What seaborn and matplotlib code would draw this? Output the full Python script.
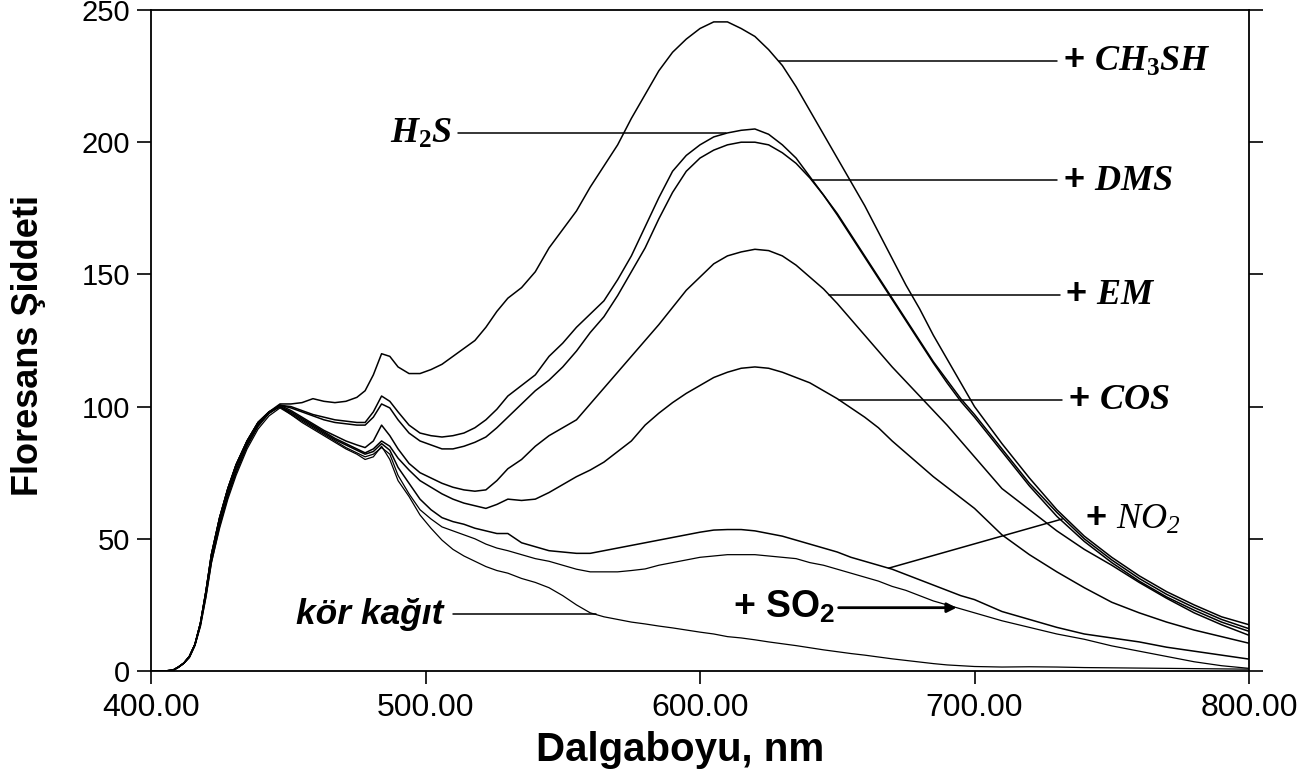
import numpy as np
import pandas as pd
import matplotlib
matplotlib.use("Agg")
import matplotlib.pyplot as plt
import seaborn as sns

# Emission wavelengths (nm)
wavelength = [400, 405, 408, 410, 412, 414, 416, 418, 420, 422, 425, 428, 431, 435, 439, 443, 447,
              451, 455, 459, 463, 467, 471, 475, 478, 481, 484, 487, 490, 494, 498, 502, 506, 510,
              514, 518, 522, 526, 530,
              535, 540, 545, 550, 555, 560, 565, 570, 575, 580, 585, 590, 595, 600, 605, 610, 615,
              620, 625, 630, 635, 640, 645, 650, 655, 660, 665, 670, 675, 680, 685, 690, 695, 700,
              710, 720, 730, 740, 750, 760, 770, 780, 790, 800]

# Normalised fluorescence intensity of each test strip
ch3sh = [0, 0, 0.3, 1.5, 3, 5.5, 10, 18, 30, 44, 58, 69, 78, 87, 94, 98, 101,
         101, 101.5, 103, 102, 101.5, 102, 103.5, 106, 112, 120, 119, 115, 112.5, 112.5, 114, 116,
         119, 122, 125, 130, 136, 141,
         145, 151, 160, 167, 174, 183, 191, 199, 209, 218, 227, 234, 239, 243, 245.5, 245.5, 243,
         240, 235, 229, 221, 212, 203, 194, 185, 176, 166, 156, 146, 137, 127, 118, 109, 100,
         86, 73, 61, 51, 43, 36, 30, 25, 20.5, 17.5]
h2s = [0, 0, 0.3, 1.5, 3, 5.5, 10, 18, 29, 42, 56, 67, 76, 85.5, 93, 97.5, 100.5,
       100, 98.5, 97, 96, 95, 94.5, 94, 94, 98, 104, 102, 98, 93, 90, 89, 88.5,
       89, 90, 92, 95, 99, 104,
       108, 112, 119, 124, 130, 135, 140, 148, 157, 168, 179, 189, 195, 199, 202, 203.5, 204.5,
       205, 203, 199, 194, 187, 180, 173, 165, 157, 149, 141, 133, 125, 117, 110, 103, 97,
       84, 71, 60, 50, 42, 35, 29, 24, 19.5, 16]
dms = [0, 0, 0.3, 1.4, 3, 5.5, 10, 17, 28, 41, 55, 66, 75, 85, 92.5, 97.5, 100.5,
       99.5, 98, 96.5, 95, 94, 93.5, 93, 93, 96, 101, 99.5, 95, 90, 87, 85.5, 84,
       84, 85, 86.5, 88.5, 92, 96,
       101, 106, 110, 115, 121, 128, 134, 142, 151, 160, 171, 181, 189, 194, 197, 199, 200,
       200, 199, 196, 192, 186.5, 180, 172.5, 164.5, 156.5, 148.5, 140.5, 132.5, 124.5, 116.5,
       109, 102, 96,
       83, 70, 58.5, 49, 41, 34, 28, 23, 18.5, 15]
em = [0, 0, 0.3, 1.5, 3, 5.5, 10, 18, 30, 44, 58, 69, 78, 87, 94, 98, 100.5,
      98.5, 96, 93.5, 91, 89, 87, 85.5, 84.5, 87, 93, 89, 84, 78.5, 75, 73, 71,
      69.5, 68.5, 68, 68.5, 72, 76.5,
      80, 85, 89, 92, 95, 101, 107, 113, 119, 125, 131, 137.5, 144, 149, 154, 157, 158.5,
      159.5, 159, 157, 153.5, 149, 144.5, 139, 133, 127, 121, 115, 109.5, 104, 98.5, 93, 87, 81,
      69, 61, 53, 46, 40, 33.5, 27.5, 22, 17.5, 13.5]
cos = [0, 0, 0.3, 1.5, 3, 5.5, 10, 18, 30, 43, 57, 68, 77, 86, 93.5, 97.5, 100,
       98, 95.5, 93, 90.5, 88, 86, 84, 82.5, 84, 87, 85, 80.5, 76, 72, 69.5, 67,
       65, 63.5, 62.5, 61.5, 63, 65,
       64.5, 65, 67.5, 70.5, 73.5, 76, 79, 83, 87, 93, 97.5, 101.5, 105, 108, 111, 113, 114.5,
       115, 114.5, 113, 111, 109, 106, 103, 99.5, 96, 92, 87, 82.5, 78, 73.5, 69.5, 65.5, 61.5,
       51.5, 44, 37.5, 31.5, 26, 22, 18.5, 15.5, 13, 10.5]
no2 = [0, 0, 0.3, 1.5, 3, 5.5, 10, 18, 30, 44, 58, 69, 78, 87, 94, 98, 100,
       97.5, 95, 92.5, 90, 87.5, 85.5, 83.5, 82, 83, 86, 83.5, 77, 71, 65, 61, 58,
       56.5, 55.5, 54, 53, 52, 52,
       48.5, 47, 45.5, 45, 44.5, 44.5, 45.5, 46.5, 47.5, 48.5, 49.5, 50.5, 51.5, 52.5, 53.3, 53.5,
       53.5, 53, 52, 51, 49.5, 48, 46.5, 45, 43, 41.5, 40, 38.5, 36.5, 34.5, 32.5, 30.5, 28.5, 27,
       22.5, 19.5, 16.5, 14, 12.5, 11, 9, 7.5, 6, 4.5]
so2 = [0, 0, 0.3, 1.4, 3, 5, 9.5, 17, 28, 41, 54, 65, 74, 84, 91.5, 96.5, 99.5,
       97, 94.5, 92, 89.5, 87, 84.5, 82.5, 81, 82, 84.5, 82, 74, 67, 61, 57.5, 54.5,
       53, 51.5, 50, 48, 46.5, 45.5,
       44, 42.5, 41.5, 40, 38.5, 37.5, 37.5, 37.5, 38, 38.6, 40, 41, 42, 43, 43.5, 44,
       44, 44, 43.5, 43, 42.5, 41, 40, 38.5, 37, 35.5, 34, 32, 30.5, 28.5, 26.5, 25, 23.5, 22,
       19, 16.5, 14, 12, 9.5, 7.5, 5.5, 3.5, 2, 1]
blank = [0, 0, 0.3, 1.5, 3, 5.5, 10, 18, 30, 44, 58, 69, 78, 87, 94, 98, 100,
         97, 94, 91.5, 89, 86.5, 84, 82, 80, 81, 85, 80, 72, 66, 59, 54, 49.5,
         46, 43.5, 41.5, 39.5, 38, 37,
         35, 33.5, 31.5, 28.5, 25, 22, 20.5, 19.5, 18.5, 17.8, 17, 16.3, 15.5, 14.7, 14, 13,
         12.5, 11.8, 11, 10.3, 9.6, 8.8, 8, 7.3, 6.6, 6, 5.3, 4.6, 4, 3.4, 2.8, 2.3, 2, 1.7,
         1.5, 1.6, 1.5, 1.3, 1.2, 1.1, 1, 0.9, 0.8, 0.7]

series = {"CH3SH": ch3sh, "H2S": h2s, "DMS": dms, "EM": em,
          "COS": cos, "NO2": no2, "SO2": so2, "blank": blank}
line_widths = {"CH3SH": 1.1, "H2S": 1.1, "DMS": 1.1, "EM": 1.1,
               "COS": 1.1, "NO2": 1.1, "SO2": 0.9, "blank": 0.9}

long = pd.concat([pd.DataFrame({"wl": wavelength, "val": v, "series": k})
                  for k, v in series.items()], ignore_index=True)

sns.set_style("ticks")
plt.rcParams["font.family"] = ["Liberation Sans", "DejaVu Sans"]
plt.rcParams["mathtext.fontset"] = "custom"
plt.rcParams["mathtext.it"] = "Liberation Serif:italic:bold"
plt.rcParams["mathtext.rm"] = "Liberation Serif:bold"
plt.rcParams["mathtext.bf"] = "Liberation Sans:bold"
plt.rcParams["mathtext.sf"] = "Liberation Serif:italic"
plt.rcParams["text.color"] = "black"
plt.rcParams["axes.labelcolor"] = "black"

fig = plt.figure(figsize=(13.16, 7.76), dpi=100)
ax = fig.add_axes([151 / 1316, 1 - 671 / 776, 1098 / 1316, 661 / 776])

for name in series:
    sub = long[long["series"] == name]
    sns.lineplot(data=sub, x="wl", y="val", ax=ax, color="black",
                 lw=line_widths[name], estimator=None, legend=False)

ax.set_xlim(400, 800)
ax.set_ylim(0, 250)
xt = [400, 500, 600, 700, 800]
ax.set_xticks(xt)
ax.set_xticklabels([f"{v:.2f}" for v in xt])
ax.set_yticks([0, 50, 100, 150, 200, 250])

for s in ax.spines.values():
    s.set_visible(True)
    s.set_color("black")
    s.set_linewidth(1.3)

ax.tick_params(axis="both", direction="out", colors="black", width=1.2)
ax.tick_params(axis="y", left=True, right=True, length=10, labelsize=21, pad=5)
ax.tick_params(axis="x", bottom=True, top=False, length=9, labelsize=23, pad=7)

ax.set_xlabel("Dalgaboyu, nm", fontsize=29, fontweight="bold")
ax.set_ylabel("Floresans Şiddeti", fontsize=26, fontweight="bold")
ax.xaxis.set_label_coords((680 - 151) / 1098, -(731 - 671) / 661)
ax.yaxis.set_label_coords((46 - 151) / 1098, (671 - 345) / 661)

# Leader lines and labels, anchored on the curves
def at(name, x):
    return float(np.interp(x, wavelength, series[name]))

lab_kw = dict(fontsize=26, fontweight="bold", color="black", va="center")
line_kw = dict(color="black", lw=1.1)

right_labels = [
    ("CH3SH", 628.7, 732.2, r"+ $CH_{\mathit{3}}SH$"),
    ("DMS", 640.7, 732.2, r"+ $DMS$"),
    ("EM", 647.0, 733.0, r"+ $EM$"),
    ("COS", 650.5, 734.0, r"+ $COS$"),
]
for name, anchor, tx, txt in right_labels:
    y = at(name, anchor)
    ax.plot([anchor, tx - 2.0], [y, y], **line_kw)
    ax.text(tx, y, txt, ha="left", **lab_kw)

# H2S label on the left of its curve
y = at("H2S", 609.5)
ax.plot([512.0, 609.5], [y, y], **line_kw)
ax.text(509.7, y, r"$H_{\mathit{2}}S$", ha="right", **lab_kw)

# blank paper
y = at("blank", 562.0)
ax.plot([510.0, 562.0], [y, y], **line_kw)
ax.text(506.4, y, "kör kağıt", ha="right", fontsize=25.5, fontweight="bold",
        fontstyle="italic", color="black", va="center")

# NO2 pointer
y0 = at("NO2", 668.7)
ax.plot([668.7, 732.0], [y0, 57.5], **line_kw)
ax.text(740.3, 57.5, r"+ $\mathsf{NO_{2}}$", ha="left", **lab_kw)

# SO2 arrow
y = at("SO2", 693.5)
ax.annotate("", xy=(693.5, y), xytext=(650.5, y),
            arrowprops=dict(arrowstyle="-|>", color="black", lw=2.0,
                            mutation_scale=14, shrinkA=0, shrinkB=0))
ax.text(649.2, y, r"+ SO$_{\mathbf{2}}$", ha="right", fontsize=27,
        fontweight="bold", color="black", va="center")

fig.savefig("out.png", dpi=100, facecolor="white")
